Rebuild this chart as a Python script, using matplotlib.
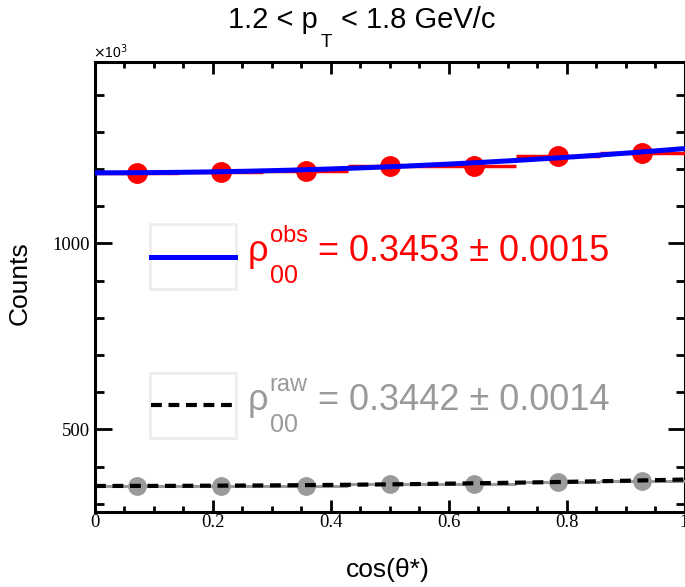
import numpy as np
import matplotlib
matplotlib.use("Agg")
import matplotlib.pyplot as plt
from matplotlib.lines import Line2D
from matplotlib.patches import Rectangle
from matplotlib.ticker import MultipleLocator, FixedLocator

# ---------------- data ----------------
cos_bins = [0.0714, 0.2143, 0.3571, 0.5000, 0.6429, 0.7857, 0.9286]
bin_halfwidth = 1.0 / 14
counts_obs = [1190, 1192, 1196, 1209, 1209, 1236, 1243]
counts_raw = [349, 349, 349, 354, 353, 358, 361]
rho_obs = 0.3453
rho_obs_err = 0.0015
rho_raw = 0.3442
rho_raw_err = 0.0014
norm_obs = 1190   # fit value at cos = 0
norm_raw = 348
ytick_vals = [500, 1000]
ytick_labels = ["500", "1000"]
xtick_vals = [0, 0.2, 0.4, 0.6, 0.8, 1.0]
xtick_labels = ["0", "0.2", "0.4", "0.6", "0.8", "1"]

W, H = 685, 587
def fx(px):
    return px / W
def fy(py):
    return 1 - py / H

SANS = "Liberation Sans"
SERIF = "Liberation Serif"
RED = "#ff0000"
BLUE = "#0000ff"
GRAY = "#9a9a9a"

fig = plt.figure(figsize=(W / 100, H / 100), dpi=100)
ax = fig.add_axes([fx(95), fy(512), fx(684.5) - fx(95), fy(62) - fy(512)])
ax.set_xlim(0, 1)
ax.set_ylim(278, 1488)

def fit_curve(c, n0, rho):
    return n0 * ((1 - rho) + (3 * rho - 1) * c ** 2) / (1 - rho)

cc = np.linspace(0, 1, 200)

# raw (gray) data and dashed fit
ax.errorbar(cos_bins, counts_raw, xerr=bin_halfwidth, fmt="o", color=GRAY,
            ms=12.5, elinewidth=2.2, capsize=0, zorder=3)
ax.plot(cc, fit_curve(cc, norm_raw, rho_raw), color="black", lw=3.0,
        linestyle=(0, (2.6, 1.6)), zorder=4)

# observed (red) data and blue fit
ax.errorbar(cos_bins, counts_obs, xerr=bin_halfwidth, fmt="o", color=RED,
            ms=14, elinewidth=2.5, capsize=0, zorder=3)
ax.plot(cc, fit_curve(cc, norm_obs, rho_obs), color=BLUE, lw=3.6, zorder=4)

# axes styling
for s in ax.spines.values():
    s.set_linewidth(2.2)
ax.xaxis.set_major_locator(FixedLocator(xtick_vals))
ax.xaxis.set_minor_locator(MultipleLocator(0.05))
ax.yaxis.set_major_locator(FixedLocator(ytick_vals))
ax.yaxis.set_minor_locator(MultipleLocator(100))
ax.set_xticklabels(xtick_labels, fontfamily=SERIF, fontsize=13.5)
ax.set_yticklabels(ytick_labels, fontfamily=SERIF, fontsize=13.5)
ax.tick_params(axis="x", which="major", direction="in", length=8.5, width=2.0,
               top=True, bottom=True, pad=1.5)
ax.tick_params(axis="x", which="minor", direction="in", length=4.3, width=2.0,
               top=True, bottom=True)
ax.tick_params(axis="y", which="major", direction="in", length=12, width=2.0,
               left=True, right=True, pad=3.5)
ax.tick_params(axis="y", which="minor", direction="in", length=6.5, width=2.0,
               left=True, right=True)

# exponent label
fig.text(fx(93), fy(58), r"$\times$10$^{3}$", fontsize=10, family=SANS,
         ha="left", va="baseline")

# axis titles
fig.text(fx(388), fy(570), "cos(θ*)", fontsize=19, family=SANS,
         ha="center", va="center")
fig.text(fx(20), fy(283), "Counts", fontsize=19, family=SANS,
         rotation=90, ha="center", va="center")

renderer = fig.canvas.get_renderer()

def place(x, ybase, s, size, color="black"):
    t = fig.text(fx(x), fy(ybase), s, fontsize=size, color=color,
                 family=SANS, ha="left", va="baseline")
    bb = t.get_window_extent(renderer)
    return bb.x1

# title with low subscript
xe = place(228, 28, "1.2 < p", 21)
xe = place(xe + 3, 47, "T", 13.5)
place(xe + 9, 28, "< 1.8 GeV/c", 21)

# legend boxes
for (y0, y1) in [(224, 289), (373, 438)]:
    fig.patches.append(Rectangle((fx(150), fy(y1)), fx(236) - fx(150),
                                 fy(y0) - fy(y1), transform=fig.transFigure,
                                 fill=False, edgecolor="#eeeeee", lw=2.0))
fig.lines.append(Line2D([fx(151), fx(235)], [fy(256.5), fy(256.5)],
                        transform=fig.transFigure, color=BLUE, lw=3.6))
fig.lines.append(Line2D([fx(151), fx(235)], [fy(405), fy(405)],
                        transform=fig.transFigure, color="black", lw=3.0,
                        linestyle=(0, (2.6, 1.6))))

# legend texts
def legend_entry(ybase, sup, rho, err, color):
    xe = place(248, ybase, "ρ", 26, color)
    xs = place(xe + 1, ybase - 19, sup, 17, color)
    xb = place(xe + 1, ybase + 22, "00", 18, color)
    place(max(xs, xb) + 10, ybase, f"= {rho:.4f} ± {err:.4f}", 26, color)

legend_entry(261, "obs", rho_obs, rho_obs_err, RED)
legend_entry(410, "raw", rho_raw, rho_raw_err, GRAY)

fig.savefig("out.png", dpi=100)
